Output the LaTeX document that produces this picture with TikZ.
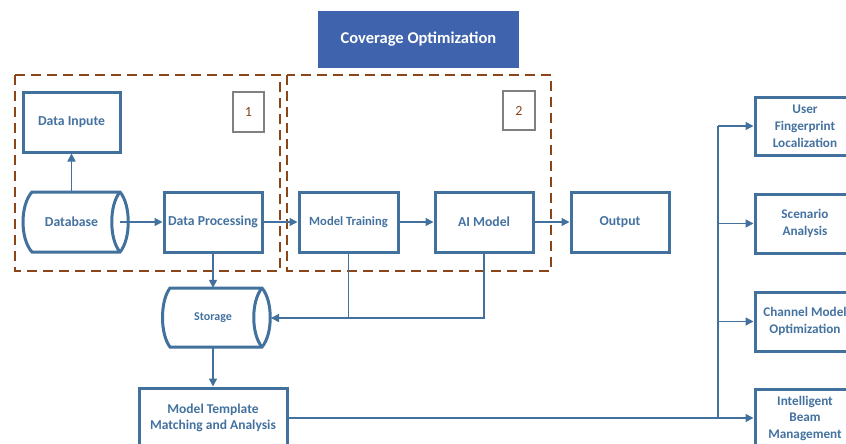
\documentclass[tikz,border=0pt]{standalone}
\usepackage{fontspec}
\setmainfont{Carlito}
\usetikzlibrary{arrows.meta}
\definecolor{bblue}{RGB}{65,113,156}
\definecolor{tblue}{RGB}{68,114,160}
\definecolor{ttl}{RGB}{63,99,173}
\definecolor{brn}{RGB}{138,70,22}
\definecolor{gr}{RGB}{128,128,128}
\tikzset{
  box/.style={draw=bblue, line width=3pt, fill=white, text=tblue, font=\fontsize{13.7}{16}\selectfont\bfseries, align=center, minimum width=98pt, minimum height=60pt, inner sep=1pt},
  plain/.style={text=tblue, font=\fontsize{13.7}{16}\selectfont\bfseries, minimum width=97pt, minimum height=60pt, inner sep=0pt},
  cyl/.style={draw=bblue, line width=3pt, fill=white},
  arr/.style={draw=bblue, line width=1.5pt, -{Triangle[length=8pt,width=8pt]}},
  ln/.style={draw=bblue, line width=1.5pt},
  dashbox/.style={draw=brn, line width=2pt, dash pattern=on 10pt off 6pt},
  numbox/.style={draw=gr, line width=1.6pt, text=brn, font=\fontsize{14}{16}\selectfont, inner sep=0pt},
}
\begin{document}
\begin{tikzpicture}[x=1pt,y=-1pt]
\clip (0,0) rectangle (846,444);
\fill[white] (0,0) rectangle (846,444);
% dashed groups
\draw[dashbox] (15,75) rectangle (280,271);
\draw[dashbox] (287,75) rectangle (551,271);
% title
\node[fill=ttl, text=white, font=\fontsize{16.5}{19}\selectfont\bfseries, minimum width=201pt, minimum height=57pt, inner sep=0pt] (title) at (418.5,39.5) {Coverage Optimization};
% number boxes
\node[numbox, minimum width=31pt, minimum height=40pt] (n1) at (248.5,112) {1};
\node[numbox, minimum width=32pt, minimum height=39pt] (n2) at (519,110.5) {2};
% boxes
\node[box, minimum width=97pt] (din) at (71.5,122) {Data Inpute};
\node[box] (dp) at (213,222) {Data Processing};
\node[box, minimum width=99pt, font=\fontsize{12.6}{15}\selectfont\bfseries] (mt) at (348.5,222) {Model Training};
\node[box] (ai) at (484,222) {AI Model};
\node[box] (out) at (620,222) {Output};
\node[box, minimum width=100pt, minimum height=58pt, font=\fontsize{13.2}{16.8}\selectfont\bfseries] (ufl) at (805,126) {User\\Fingerprint\\Localization};
\node[box, minimum width=100pt, minimum height=59pt, font=\fontsize{13.2}{17}\selectfont\bfseries] (sa) at (805,223.5) {Scenario\\Analysis};
\node[box, minimum width=100pt, minimum height=59pt, font=\fontsize{13.2}{17}\selectfont\bfseries] (cmo) at (805,321.5) {Channel Model\\Optimization};
\node[box, minimum width=100pt, minimum height=58pt, font=\fontsize{13.2}{16.5}\selectfont\bfseries] (ibm) at (805,418) {Intelligent\\Beam\\Management};
\node[box, minimum width=148pt, font=\fontsize{13.5}{15.5}\selectfont\bfseries] (mtma) at (213,418) {Model Template\\Matching and Analysis};
% database cylinder
\draw[cyl] (32,192) -- (120,192) .. controls (131,205) and (131,239) .. (120,252) -- (32,252) .. controls (20,239) and (20,205) .. (32,192) -- cycle;
\draw[cyl] (120,192) .. controls (109,205) and (109,239) .. (120,252);
\node[plain] (db) at (71.5,222) {Database};
% storage cylinder
\draw[cyl] (170,288) -- (262,288) .. controls (273,301) and (273,334) .. (262,347) -- (170,347) .. controls (160,334) and (160,301) .. (170,288) -- cycle;
\draw[cyl] (262,288) .. controls (251,301) and (251,334) .. (262,347);
\node[plain, minimum width=98pt, minimum height=59pt, font=\fontsize{12}{14}\selectfont\bfseries] (st) at (213,317.5) {Storage};
\coordinate (stin) at (271,318);
% connectors
\draw[arr] (db.north) -- (din.south);
\draw[arr] (db.east) -- (dp.west);
\draw[arr] (dp.east) -- (mt.west);
\draw[arr] (mt.east) -- (ai.west);
\draw[arr] (ai.east) -- (out.west);
\draw[arr] (dp.south) -- (st.north);
\draw[arr] (ai.south) |- (stin);
\draw[ln] (mt.south) -- (mt.south |- stin);
\draw[arr] (st.south) -- (mtma.north);
% bus
\coordinate (busT) at (718,126);
\coordinate (busB) at (718,418);
\draw[ln] (busB) -- (busT);
\draw[arr] (mtma.east) -- (ibm.west);
\draw[arr] (busT) -- (ufl.west);
\draw[arr] (busT |- sa.west) -- (sa.west);
\draw[arr] (busT |- cmo.west) -- (cmo.west);
\end{tikzpicture}
\end{document}
